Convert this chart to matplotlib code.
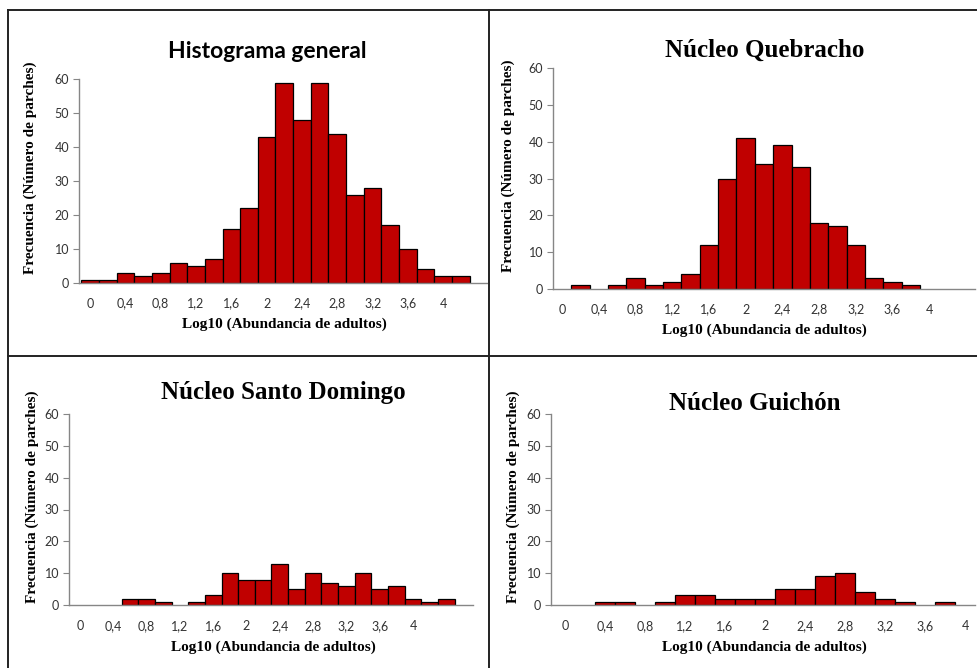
import matplotlib
matplotlib.use('Agg')
import matplotlib.pyplot as plt
from matplotlib.lines import Line2D

# categorias (log10 abundancia), ancho de clase 0.2
bins = [0.0, 0.2, 0.4, 0.6, 0.8, 1.0, 1.2, 1.4, 1.6, 1.8, 2.0, 2.2,
        2.4, 2.6, 2.8, 3.0, 3.2, 3.4, 3.6, 3.8, 4.0, 4.2, 4.4, 4.6]

general = [1, 1, 3, 2, 3, 6, 5, 7, 16, 22, 43, 59,
           48, 59, 44, 26, 28, 17, 10, 4, 2, 2, 0, 0]
quebracho = [0, 1, 0, 1, 3, 1, 2, 4, 12, 30, 41, 34,
             39, 33, 18, 17, 12, 3, 2, 1, 0, 0, 0, 0]
santo_domingo = [0, 0, 0, 2, 2, 1, 0, 1, 3, 10, 8, 8,
                 13, 5, 10, 7, 6, 10, 5, 6, 2, 1, 2, 0]
guichon = [0, 0, 1, 1, 0, 1, 3, 3, 2, 2, 2, 5,
           5, 9, 10, 4, 2, 1, 0, 1, 0, 0, 0, 0]

xtick_pos = [0, 0.4, 0.8, 1.2, 1.6, 2.0, 2.4, 2.8, 3.2, 3.6, 4.0]
xtick_labels = ['0', '0,4', '0,8', '1,2', '1,6', '2', '2,4', '2,8', '3,2', '3,6', '4']
yticks = [0, 10, 20, 30, 40, 50, 60]

W, H = 977, 668
fig = plt.figure(figsize=(W / 100, H / 100), dpi=100)

BAR = '#c00000'
AXC = '#868686'
SANS = ['Lato', 'DejaVu Sans']
SERIF = ['Liberation Serif', 'DejaVu Serif']


def px_axes(left, top, right, bottom):
    # rectangle in pixel coords (origin top-left)
    return fig.add_axes([left / W, 1 - bottom / H, (right - left) / W, (bottom - top) / H])


def ax_bottom_px(ax):
    return (1 - ax.get_position().y0) * H


def panel(ax, counts, xlim, title, title_xy, title_size,
          xlabel_xy, ylabel_x, xtick_y, title_font=SERIF):
    xs = [b for b, c in zip(bins, counts) if c > 0]
    hs = [c for c in counts if c > 0]
    ax.bar(xs, hs, width=0.2, color=BAR, edgecolor='black', linewidth=0.9)
    ax.set_xlim(*xlim)
    ax.set_ylim(0, 60)
    ax.set_yticks(yticks)
    ax.set_yticklabels([str(v) for v in yticks], family=SANS, fontsize=9, color='#333333')
    ax.set_xticks(xtick_pos)
    ax.set_xticklabels(xtick_labels, family=SANS, fontsize=9, color='#333333')
    pad_pt = (xtick_y - 4.5 - ax_bottom_px(ax)) * 0.72
    ax.tick_params(axis='x', length=0, pad=pad_pt)
    ax.tick_params(axis='y', length=4, width=0.8, color=AXC, pad=3)
    for s in ['top', 'right']:
        ax.spines[s].set_visible(False)
    for s in ['left', 'bottom']:
        ax.spines[s].set_color(AXC)
        ax.spines[s].set_linewidth(1.0)
    fig.text(title_xy[0] / W, 1 - title_xy[1] / H, title, family=title_font,
             fontsize=title_size, fontweight='bold', ha='center', va='center')
    fig.text(xlabel_xy[0] / W, 1 - xlabel_xy[1] / H, 'Log10 (Abundancia de adultos)',
             family=SERIF, fontsize=11, fontweight='bold', ha='center', va='center')
    y0, y1 = ax.get_position().y0, ax.get_position().y1
    fig.text(ylabel_x / W, (y0 + y1) / 2 + 13 / H, 'Frecuencia (Número de parches)',
             family=SERIF, fontsize=11, fontweight='bold', rotation=90,
             ha='center', va='center')


ax1 = px_axes(79, 79.3, 487, 283)
panel(ax1, general, (-0.125, 4.495), 'Histograma general', (267, 52), 16.5,
      (284, 324), 30, 302, title_font=SANS)

ax2 = px_axes(553, 68, 975, 289)
panel(ax2, quebracho, (-0.10, 4.50), 'Núcleo Quebracho', (765, 50), 18,
      (764, 330), 508, 308)

ax3 = px_axes(69, 414, 473, 605)
panel(ax3, santo_domingo, (-0.132, 4.72), 'Núcleo Santo Domingo', (283, 393), 18,
      (273, 647), 32, 625)

ax4 = px_axes(551, 414, 975, 605)
panel(ax4, guichon, (-0.14, 4.10), 'Núcleo Guichón', (755, 404), 18,
      (764, 647), 513, 625)

# marcos
frame = dict(color='#222222', linewidth=1.4, transform=fig.transFigure)
fig.add_artist(Line2D([7.5 / W, 1], [1 - 10 / H, 1 - 10 / H], **frame))
fig.add_artist(Line2D([7.5 / W, 7.5 / W], [0, 1 - 10 / H], **frame))
fig.add_artist(Line2D([489 / W, 489 / W], [0, 1 - 10 / H], **frame))
fig.add_artist(Line2D([7.5 / W, 1], [1 - 356 / H, 1 - 356 / H], **frame))

fig.savefig('out.png', dpi=100)
